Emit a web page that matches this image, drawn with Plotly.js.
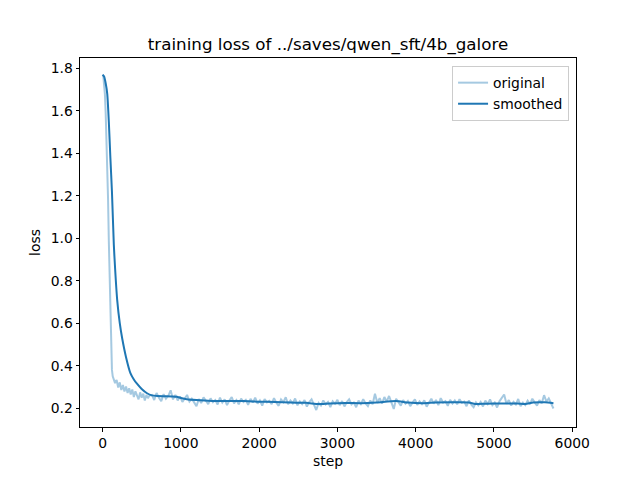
<!DOCTYPE html>
<html>
<head>
<meta charset="utf-8">
<script src="https://cdn.plot.ly/plotly-3.0.1.min.js"></script>
<style>html,body{margin:0;padding:0;background:#fff;}#chart{width:640px;height:480px;}</style>
</head>
<body>
<div id="chart"></div>
<script>
// Logged steps for the raw loss
const origSteps = [
  0,10,20,30,40,50,60,70,80,90,100,110,120,130,140,
  160,180,200,220,240,260,280,300,320,340,360,380,400,420,440,460,480,500,520,540,560,580,600,
  630,660,690,720,750,780,810,840,870,900,
  930,960,990,1020,1050,1080,1110,1140,1170,1200,
  1230,1260,1290,1320,1350,1380,1410,1440,1470,1500,
  1530,1560,1590,1620,1650,1680,1710,1740,1770,1800,
  1830,1860,1890,1920,1950,1980,2010,2040,2070,2100,
  2130,2160,2190,2220,2250,2280,2310,2340,2370,2400,
  2430,2460,2490,2520,2550,2580,2610,2640,2670,2700,
  2730,2760,2790,2820,2850,2880,2910,2940,2970,3000,
  3030,3060,3090,3120,3150,3180,3210,3240,3270,3300,
  3330,3360,3390,3420,3450,3480,3510,3540,3570,3600,
  3630,3660,3690,3720,3750,3780,3810,3840,3870,3900,
  3930,3960,3990,4020,4050,4080,4110,4140,4170,4200,
  4230,4260,4290,4320,4350,4380,4410,4440,4470,4500,
  4530,4560,4590,4620,4650,4680,4710,4740,4770,4800,
  4830,4860,4890,4920,4950,4980,5010,5040,5070,5100,
  5130,5160,5190,5220,5250,5280,5310,5340,5370,5400,
  5430,5460,5490,5520,5550,5580,5610,5640,5670,5700,
  5730,5760
];
// Raw loss values
const originalLoss = [
  1.770,1.765,1.720,1.680,1.590,1.480,1.370,1.190,0.990,0.800,0.620,0.460,0.380,0.350,0.335,
  0.318,0.332,0.297,0.321,0.285,0.309,0.278,0.302,0.271,0.293,0.264,0.288,0.252,0.279,0.258,0.241,0.274,0.249,0.268,0.236,0.262,0.247,0.259,
  0.262,0.238,0.271,0.249,0.233,0.266,0.244,0.258,0.284,0.241,
  0.262,0.236,0.255,0.229,0.248,0.262,0.231,0.244,0.227,0.209,
  0.243,0.224,0.251,0.232,0.219,0.246,0.228,0.238,0.217,0.249,
  0.226,0.241,0.214,0.236,0.252,0.222,0.238,0.218,0.245,0.229,
  0.239,0.215,0.244,0.226,0.249,0.221,0.236,0.212,0.243,0.227,
  0.234,0.219,0.247,0.225,0.211,0.241,0.228,0.251,0.218,0.236,
  0.222,0.245,0.213,0.231,0.219,0.238,0.207,0.229,0.241,0.216,
  0.191,0.224,0.212,0.236,0.218,0.229,0.205,0.232,0.221,0.239,
  0.214,0.233,0.208,0.228,0.241,0.217,0.226,0.204,0.235,0.219,
  0.242,0.222,0.209,0.236,0.218,0.268,0.225,0.247,0.221,0.252,
  0.231,0.257,0.226,0.196,0.244,0.229,0.212,0.238,0.221,0.233,
  0.209,0.226,0.241,0.215,0.232,0.219,0.237,0.207,0.228,0.244,
  0.221,0.238,0.214,0.247,0.226,0.233,0.211,0.239,0.222,0.236,
  0.218,0.242,0.225,0.231,0.209,0.236,0.216,0.204,0.227,0.213,
  0.229,0.208,0.235,0.219,0.241,0.214,0.226,0.203,0.232,0.248,
  0.264,0.221,0.238,0.212,0.229,0.217,0.243,0.209,0.226,0.214,
  0.235,0.219,0.244,0.227,0.212,0.238,0.222,0.261,0.231,0.246,
  0.222,0.198
];
// Smoothed curve
const smoothSteps = [0,20,40,60,80,100,120,144,160,187,220,250,300,356,400,440,500,568,631,700,800,900,950,1000,1076,1200,1400,1600,1800,2000,2200,2400,2600,2760,2900,3100,3300,3500,3750,3900,4100,4250,4500,4680,4760,4900,5100,5300,5400,5500,5650,5760];
const smoothedLoss = [1.770,1.762,1.730,1.680,1.550,1.380,1.220,0.970,0.860,0.710,0.600,0.530,0.440,0.365,0.335,0.315,0.290,0.270,0.260,0.257,0.256,0.255,0.253,0.248,0.242,0.238,0.234,0.233,0.233,0.230,0.229,0.226,0.225,0.219,0.222,0.224,0.223,0.226,0.233,0.226,0.223,0.226,0.227,0.226,0.219,0.221,0.222,0.222,0.219,0.226,0.227,0.223];

const xTicks = [0,1000,2000,3000,4000,5000,6000];
const yTicks = [0.2,0.4,0.6,0.8,1.0,1.2,1.4,1.6,1.8];
const titleText = 'training loss of ../saves/qwen_sft/4b_galore';

const font = {family: 'DejaVu Sans', size: 13.9, color: '#000'};

const traces = [
  {x: origSteps, y: originalLoss, type: 'scatter', mode: 'lines', name: 'original',
   line: {color: 'rgba(31,119,180,0.4)', width: 2}},
  {x: smoothSteps, y: smoothedLoss, type: 'scatter', mode: 'lines', name: 'smoothed',
   line: {color: '#1f77b4', width: 2, shape: 'spline', smoothing: 0.6}}
];

const axisCommon = {
  showgrid: false, zeroline: false, showline: true, mirror: true,
  linecolor: '#000', linewidth: 1, ticks: 'outside', ticklen: 3.5, tickwidth: 1,
  tickcolor: '#000', tickfont: font
};

const layout = {
  width: 640, height: 480,
  margin: {l: 80, r: 64, t: 58, b: 53, pad: 0},
  paper_bgcolor: '#fff', plot_bgcolor: '#fff',
  font: font,
  showlegend: true,
  title: {text: titleText, font: {family: 'DejaVu Sans', size: 16.7, color: '#000'},
          x: 0.5, xref: 'paper', y: 1, yref: 'paper', yanchor: 'bottom', pad: {b: 8}},
  xaxis: Object.assign({}, axisCommon, {
    range: [-288, 6048], tickmode: 'array', tickvals: xTicks,
    ticktext: xTicks.map(String),
    title: {text: 'step', font: font, standoff: 6}
  }),
  yaxis: Object.assign({}, axisCommon, {
    range: [0.111, 1.849], tickmode: 'array', tickvals: yTicks,
    ticktext: yTicks.map(v => v.toFixed(1)),
    title: {text: 'loss', font: font, standoff: 6}
  }),
  legend: {
    x: 0.986, y: 0.978, xanchor: 'right', yanchor: 'top',
    bgcolor: 'rgba(255,255,255,0.8)', bordercolor: '#cccccc', borderwidth: 1,
    font: font, itemwidth: 30, tracegroupgap: 0
  },
  hovermode: false
};

Plotly.newPlot('chart', traces, layout, {displayModeBar: false, staticPlot: true});
</script>
</body>
</html>
